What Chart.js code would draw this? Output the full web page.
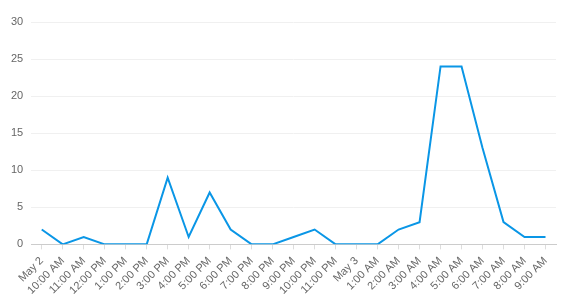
<!DOCTYPE html>
<html>
<head>
<meta charset="utf-8">
<script src="https://cdn.jsdelivr.net/npm/chart.js@4/dist/chart.umd.min.js"></script>
<style>
  html,body{margin:0;padding:0;background:#fff}
  #wrap{width:566px;height:305px;position:relative}
</style>
</head>
<body>
<div id="wrap"><canvas id="hourlyChart"></canvas></div>
<script>
/* ── DATA ─────────────────────────────────────────────── */
const hourLabels = ['May 2','10:00 AM','11:00 AM','12:00 PM','1:00 PM','2:00 PM','3:00 PM','4:00 PM','5:00 PM','6:00 PM','7:00 PM','8:00 PM','9:00 PM','10:00 PM','11:00 PM','May 3','1:00 AM','2:00 AM','3:00 AM','4:00 AM','5:00 AM','6:00 AM','7:00 AM','8:00 AM','9:00 AM'];
const hourCounts = [2,0,1,0,0,0,9,1,7,2,0,0,1,2,0,0,0,2,3,24,24,13,3,1,1];
const yMax = 30;
const yStep = 5;

/* ── CHART ────────────────────────────────────────────── */
Chart.defaults.font.family = '"Liberation Sans", Arial, sans-serif';
Chart.defaults.font.size = 11;
Chart.defaults.color = '#666';

new Chart(document.getElementById('hourlyChart'),{
  type:'line',
  data:{
    labels:hourLabels,
    datasets:[{ data:hourCounts, borderColor:'#0a96e6', borderWidth:2, pointRadius:0, tension:0, fill:false }]
  },
  options:{
    responsive:true,maintainAspectRatio:false,animation:false,
    layout:{padding:{top:22,right:10,left:3,bottom:3}},
    plugins:{legend:{display:false},tooltip:{enabled:false}},
    scales:{
      x:{
        offset:true,
        grid:{drawOnChartArea:false,drawTicks:true,tickLength:5,color:'#ddd'},
        border:{color:'#ccc'},
        ticks:{autoSkip:false,maxRotation:45,minRotation:45,padding:5}
      },
      y:{
        min:0,max:yMax,
        grid:{color:'#f0f0f0',drawTicks:false},
        border:{display:false},
        ticks:{stepSize:yStep,padding:8}
      }
    }
  }
});
</script>
</body>
</html>
